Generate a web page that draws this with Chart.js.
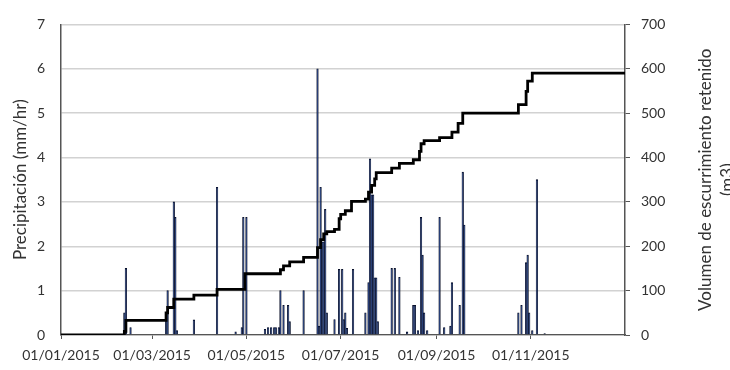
<!DOCTYPE html>
<html>
<head>
<meta charset="utf-8">
<script src="https://cdn.jsdelivr.net/npm/chart.js@4"></script>
<style>
  html, body { margin: 0; padding: 0; background: #fff; }
  #wrap { width: 730px; height: 370px; }
</style>
</head>
<body>
<div id="wrap"><canvas id="chart" width="730" height="370"></canvas></div>
<script>
// days counted from 01/01/2015
const rainDays = [41, 42, 45, 68, 69, 73, 74, 75, 86, 101, 113, 117, 118, 120,
    132, 134, 136, 138, 139, 141, 142, 144, 147, 148, 157,
    166, 167, 168, 169, 170, 171, 172, 177, 180, 182, 183, 184, 185, 189,
    197, 199, 200, 201, 202, 203, 204, 205, 214, 216, 219, 224, 228, 229,
    231, 233, 234, 235, 237, 245, 248, 252, 253, 258, 260, 261,
    296, 298, 301, 302, 303, 305, 308, 313];
// precipitation (mm/hr)
const rainValues = [0.5, 1.5, 0.17, 0.5, 1.0, 3.0, 2.65, 0.1, 0.34, 3.33, 0.07, 0.17, 2.65, 2.65,
    0.13, 0.17, 0.17, 0.17, 0.17, 0.17, 1.0, 0.67, 0.67, 0.3, 1.0,
    6.0, 0.2, 3.33, 2.1, 2.1, 2.83, 0.5, 0.35, 1.48, 1.48, 0.35, 0.5, 0.15, 1.48,
    0.5, 1.18, 3.97, 3.16, 3.16, 1.29, 1.29, 0.3, 1.5, 1.5, 1.3, 0.07, 0.67, 0.67,
    0.1, 2.65, 1.8, 0.5, 0.1, 2.65, 0.17, 0.2, 1.18, 0.67, 3.67, 2.48,
    0.5, 0.67, 1.63, 1.8, 0.5, 0.1, 3.5, 0.03];

// cumulative retained runoff volume (m3)
const volumeDays = [0, 41, 42, 68, 69, 73, 86, 101, 119, 142, 144, 148, 157,
    166, 168, 170, 172, 177, 180, 181, 184, 188, 197, 199, 201, 203, 204,
    214, 219, 228, 232, 233, 235, 245, 253, 257, 260, 296, 301, 302, 305, 365];
const volumeValues = [0, 8, 33, 50, 62, 81, 90, 103, 138, 147, 156, 165, 175,
    197, 215, 228, 233, 238, 262, 272, 280, 301, 306, 322, 337, 352, 366,
    376, 387, 395, 414, 431, 438, 445, 457, 477, 500, 519, 549, 572, 590, 590];

const tickLabels = ['01/01/2015', '01/03/2015', '01/05/2015', '01/07/2015', '01/09/2015', '01/11/2015'];
const leftTitle = 'Precipitación (mm/hr)';
const rightTitle = ['Volumen de escurrimiento retenido', '(m3)'];

const start = Date.UTC(2015, 0, 1);
function labelToDay(s) {
    const [d, m, y] = s.split('/').map(Number);
    return Math.round((Date.UTC(y, m - 1, d) - start) / 86400000);
}
const tickDays = tickLabels.map(labelToDay);

const textColor = '#333333';
const axisColor = '#555555';

// right axis title reads bottom-to-top, so draw it by hand
const rightTitlePlugin = {
    id: 'rightTitle',
    afterDraw(chart) {
        const ctx = chart.ctx;
        const area = chart.chartArea;
        ctx.save();
        ctx.translate(706, (area.top + area.bottom) / 2);
        ctx.rotate(-Math.PI / 2);
        ctx.font = '17px Lato';
        ctx.fillStyle = textColor;
        ctx.textAlign = 'center';
        ctx.textBaseline = 'middle';
        rightTitle.forEach((line, i) => ctx.fillText(line, 0, i * 22));
        ctx.restore();
    }
};

const ctx = document.getElementById('chart');

new Chart(ctx, {
    data: {
        datasets: [{
            type: 'line',
            data: volumeDays.map((d, i) => ({ x: d, y: volumeValues[i] })),
            yAxisID: 'y1',
            stepped: true,
            borderColor: '#000',
            borderWidth: 2.8,
            pointRadius: 0,
            order: 0
        }, {
            type: 'bar',
            data: rainDays.map((d, i) => ({ x: d, y: rainValues[i] })),
            yAxisID: 'y',
            backgroundColor: '#1c3674',
            borderColor: '#070c22',
            borderWidth: 0.7,
            barThickness: 1.6,
            order: 1
        }]
    },
    options: {
        responsive: false,
        animation: false,
        layout: { padding: { top: 10, left: 0, right: 0, bottom: 0 } },
        plugins: {
            legend: { display: false },
            tooltip: { enabled: false }
        },
        scales: {
            x: {
                type: 'linear',
                min: 0,
                max: 365,
                offset: false,
                afterBuildTicks: (scale) => {
                    scale.ticks = tickDays.map(v => ({ value: v }));
                },
                afterFit: (scale) => { scale.height = 35; },
                ticks: {
                    autoSkip: false,
                    maxRotation: 0,
                    padding: 8,
                    color: textColor,
                    font: { family: 'Lato', size: 14 },
                    callback: (v) => tickLabels[tickDays.indexOf(v)] || ''
                },
                grid: {
                    offset: false,
                    drawOnChartArea: false,
                    tickLength: 4,
                    color: axisColor
                },
                border: { color: axisColor, width: 1.2 }
            },
            y: {
                position: 'left',
                min: 0,
                max: 7,
                afterFit: (scale) => { scale.width = 61; },
                ticks: {
                    stepSize: 1,
                    padding: 16,
                    color: textColor,
                    font: { family: 'Lato', size: 14 }
                },
                grid: {
                    drawTicks: false,
                    color: '#d2d2d2',
                    lineWidth: 1.5
                },
                border: { color: axisColor, width: 1.5 },
                title: {
                    display: true,
                    text: leftTitle,
                    color: textColor,
                    font: { family: 'Lato', size: 17 },
                    padding: { top: 10, bottom: 0 }
                }
            },
            y1: {
                position: 'right',
                min: 0,
                max: 700,
                afterFit: (scale) => { scale.width = 105; },
                ticks: {
                    stepSize: 100,
                    padding: 11,
                    color: textColor,
                    font: { family: 'Lato', size: 14 }
                },
                grid: {
                    drawOnChartArea: false,
                    tickLength: 5,
                    color: axisColor
                },
                border: { color: axisColor, width: 1.5 }
            }
        }
    },
    plugins: [rightTitlePlugin]
});
</script>
</body>
</html>
